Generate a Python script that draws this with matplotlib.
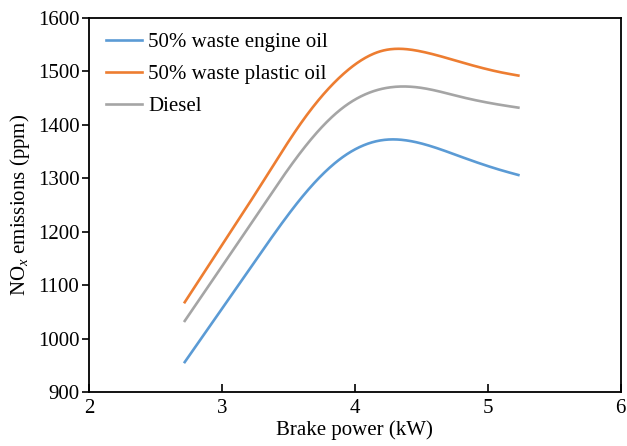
import numpy as np
import matplotlib
matplotlib.use("Agg")
import matplotlib.pyplot as plt

plt.rcParams['font.family'] = ['Liberation Serif', 'DejaVu Serif']
plt.rcParams['mathtext.fontset'] = 'custom'
plt.rcParams['mathtext.rm'] = 'Liberation Serif'
plt.rcParams['mathtext.it'] = 'Liberation Serif:italic'

# Brake power (kW) and NOx emissions (ppm)
brake_power = [2.72, 3.0, 3.3, 3.6, 3.9, 4.2, 4.5, 4.8, 5.1, 5.23]
nox_engine_oil = [956, 1056, 1163, 1264, 1338, 1371, 1365, 1340, 1315, 1306]
nox_plastic_oil = [1068, 1175, 1290, 1405, 1492, 1538, 1537, 1517, 1498, 1492]
nox_diesel = [1033, 1135, 1245, 1351, 1430, 1467, 1469, 1452, 1437, 1432]

labels = ["50% waste engine oil", "50% waste plastic oil", "Diesel"]
colors = ["#5B9BD5", "#ED7D31", "#A5A5A5"]


def natural_spline(x, y, xs):
    """Natural cubic spline through (x, y), evaluated at xs."""
    x = np.asarray(x, float)
    y = np.asarray(y, float)
    n = len(x)
    h = np.diff(x)
    A = np.zeros((n, n))
    b = np.zeros(n)
    A[0, 0] = A[-1, -1] = 1.0
    for i in range(1, n - 1):
        A[i, i - 1] = h[i - 1]
        A[i, i] = 2 * (h[i - 1] + h[i])
        A[i, i + 1] = h[i]
        b[i] = 6 * ((y[i + 1] - y[i]) / h[i] - (y[i] - y[i - 1]) / h[i - 1])
    M = np.linalg.solve(A, b)
    idx = np.clip(np.searchsorted(x, xs) - 1, 0, n - 2)
    x0, x1 = x[idx], x[idx + 1]
    hh = x1 - x0
    t0, t1 = x1 - xs, xs - x0
    return (M[idx] * t0 ** 3 / (6 * hh) + M[idx + 1] * t1 ** 3 / (6 * hh)
            + (y[idx] / hh - M[idx] * hh / 6) * t0
            + (y[idx + 1] / hh - M[idx + 1] * hh / 6) * t1)


fig = plt.figure(figsize=(6.27, 4.46), dpi=100)
ax = fig.add_axes([0.142, 0.121, 0.848, 0.839])

xs = np.linspace(brake_power[0], brake_power[-1], 400)
for series, lab, col in zip([nox_engine_oil, nox_plastic_oil, nox_diesel], labels, colors):
    ax.plot(xs, natural_spline(brake_power, series, xs), color=col, lw=1.9, label=lab)

ax.set_xlim(2, 6)
ax.set_ylim(900, 1600)
ax.set_xticks([2, 3, 4, 5, 6])
ax.set_yticks(range(900, 1601, 100))
ax.tick_params(axis='x', direction='in', length=6, width=1.2, labelsize=15, pad=5)
ax.tick_params(axis='y', direction='out', length=5, width=1.2, labelsize=15, pad=2)
for sp in ax.spines.values():
    sp.set_linewidth(1.3)

ax.set_xlabel("Brake power (kW)", fontsize=15, labelpad=2)
ax.set_ylabel("NO$_{\\mathit{x}}$ emissions (ppm)", fontsize=15, labelpad=4)

ax.legend(loc='upper left', frameon=False, fontsize=15, handlelength=1.75,
          handletextpad=0.3, labelspacing=0.6, borderaxespad=0.2,
          bbox_to_anchor=(0.008, 0.995))

fig.savefig("out.png", dpi=100)
